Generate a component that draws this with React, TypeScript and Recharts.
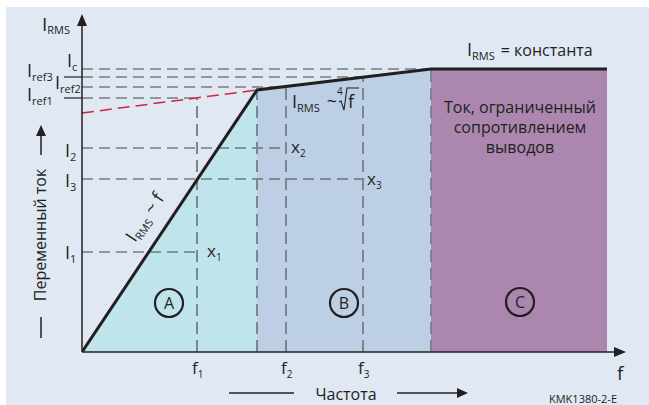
import { ComposedChart, Area, Line, XAxis, YAxis, ReferenceLine, ReferenceDot } from 'recharts';

// Ломаная I_RMS(f): начало, излом, начало полки, конец полки
const freq = [0, 175, 349, 525];
const irms = [0, 262, 283, 283];

// Уровни тока на оси и до какой частоты тянется пунктир
const levelNames = ['c', 'ref3', 'ref2', 'ref1', '2', '3', '1'];
const levelValues = [283, 275, 265, 254, 204, 173, 100];
const levelReach = [349, 281, 204, 115, 204, 281, 115];

// Частоты f1..f3 и высота вертикального пунктира
const fNames = ['1', '2', '3'];
const fValues = [115, 204, 281];
const fTops = [254, 265, 275];

// Продолжение закона ~ корень 4-й степени (красный пунктир)
const extraF = [0, 175];
const extraI = [239, 262];

// Рабочие точки x1..x3
const xNames = ['1', '2', '3'];
const xAtF = [115, 204, 281];
const xAtI = [100, 204, 173];

// Области A, B, C (центры кружков)
const zoneNames = ['A', 'B', 'C'];
const zoneF = [87, 262, 438];
const zoneI = [49, 49, 50];

const regionText = ['Ток, ограниченный', 'сопротивлением', 'выводов'];

const INK = '#231f20';
const FONT = '"Open Sans", sans-serif';

const curve = freq.map((f, k) => ({
  f,
  i: irms[k],
  a: k <= 1 ? irms[k] : undefined,
  b: k >= 1 && k <= 2 ? irms[k] : undefined,
  c: k >= 2 ? irms[k] : undefined,
}));

// label offsets in px for the axis labels (same order as levelNames)
const levelLabelPos = [
  { dx: -15, dy: -2 },
  { dx: -55, dy: 0 },
  { dx: -27, dy: 2 },
  { dx: -55, dy: 3 },
  { dx: -17, dy: 9 },
  { dx: -17, dy: 8 },
  { dx: -17, dy: 7 },
];
const xLabelPos = [
  { dx: 10, dy: 5 },
  { dx: 5, dy: 5 },
  { dx: 4, dy: 6 },
];

const at = (dx: number, dy: number, content: any) => (p: any) => (
  <g transform={`translate(${p.cx + dx},${p.cy + dy})`}>{content}</g>
);

const sym = (main: string, sub: string, size = 18, subSize = 11, drop = 4) => (
  <text x={0} y={0} fill={INK} fontFamily={FONT} fontSize={size}>
    <tspan>{main}</tspan>
    <tspan fontSize={subSize} dy={drop}>{sub}</tspan>
  </text>
);

const hDash = { stroke: '#454545', strokeWidth: 1.2, strokeDasharray: '11 6' };
const vDash = { stroke: '#7d858d', strokeWidth: 2, strokeDasharray: '12 6' };
const solid = { stroke: INK, strokeWidth: 1.5 };

export default function App() {
  return (
    <div style={{ position: 'absolute', left: 0, top: 0, width: 649, height: 405, background: '#fff' }}>
      <div style={{ position: 'absolute', left: 6, top: 7, right: 0, bottom: 0, background: '#e0e8f4' }} />
      <div style={{ position: 'absolute', left: 0, top: 0 }}>
        <ComposedChart width={649} height={405} data={curve} margin={{ top: 14, right: 23, bottom: 53, left: 82 }}>
          <XAxis dataKey="f" type="number" domain={[0, 544]} allowDataOverflow hide />
          <YAxis type="number" domain={[0, 338]} allowDataOverflow hide />

          <Area dataKey="a" type="linear" fill="#c0e4ec" fillOpacity={1} stroke="none" isAnimationActive={false} />
          <Area dataKey="b" type="linear" fill="#bccfe4" fillOpacity={1} stroke="none" isAnimationActive={false} />
          <Area dataKey="c" type="linear" fill="#ab87b0" fillOpacity={1} stroke="none" isAnimationActive={false} />

          {/* horizontal dashed levels */}
          {levelValues.map((v, k) => (
            <ReferenceLine key={`h${k}`} segment={[{ x: 0, y: v }, { x: levelReach[k], y: v }]} {...hDash} ifOverflow="visible" />
          ))}
          {/* short solid leaders for Iref3, Iref1 */}
          {[levelValues[1], levelValues[3]].map((v, k) => (
            <ReferenceLine key={`t${k}`} segment={[{ x: -18, y: v }, { x: 0, y: v }]} stroke={INK} strokeWidth={1.2} ifOverflow="visible" />
          ))}
          {/* vertical dashed at f1..f3 */}
          {fValues.map((f, k) => (
            <ReferenceLine key={`v${k}`} segment={[{ x: f, y: 0 }, { x: f, y: fTops[k] }]} {...vDash} ifOverflow="visible" />
          ))}
          {/* zone boundaries */}
          {[1, 2].map((k) => (
            <ReferenceLine key={`b${k}`} segment={[{ x: freq[k], y: 0 }, { x: freq[k], y: irms[k] }]} {...vDash} ifOverflow="visible" />
          ))}
          <ReferenceLine segment={[{ x: extraF[0], y: extraI[0] }, { x: extraF[1], y: extraI[1] }]} stroke="#d2233f" strokeWidth={1.5} strokeDasharray="12 6" ifOverflow="visible" />

          {/* axes */}
          <ReferenceLine segment={[{ x: 0, y: 0 }, { x: 536, y: 0 }]} {...solid} ifOverflow="visible" />
          <ReferenceLine segment={[{ x: 0, y: 0 }, { x: 0, y: 330 }]} {...solid} ifOverflow="visible" />
          <ReferenceDot x={544} y={0} r={1} ifOverflow="visible" shape={at(0, 0, <polygon points="0,0 -12,-5 -12,5" fill={INK} />)} />
          <ReferenceDot x={0} y={338} r={1} ifOverflow="visible" shape={at(0, 0, <polygon points="0,0 -5,12 5,12" fill={INK} />)} />

          <Line dataKey="i" type="linear" stroke={INK} strokeWidth={3} dot={false} isAnimationActive={false} />

          {/* side arrow: Переменный ток */}
          <ReferenceLine segment={[{ x: -41, y: 197 }, { x: -41, y: 218 }]} {...solid} ifOverflow="visible" />
          <ReferenceLine segment={[{ x: -41, y: 14 }, { x: -41, y: 35 }]} {...solid} ifOverflow="visible" />
          <ReferenceDot x={-41} y={227} r={1} ifOverflow="visible" shape={at(0, 0, <polygon points="0,0 -5,11 5,11" fill={INK} />)} />
          <ReferenceDot x={-41} y={117} r={1} ifOverflow="visible" shape={at(5, 0,
            <text transform="rotate(-90)" textAnchor="middle" fill={INK} fontFamily={FONT} fontSize={16}>Переменный ток</text>)} />

          {/* bottom arrow: Частота */}
          <ReferenceLine segment={[{ x: 147, y: -41 }, { x: 212, y: -41 }]} {...solid} ifOverflow="visible" />
          <ReferenceLine segment={[{ x: 315, y: -41 }, { x: 378, y: -41 }]} {...solid} ifOverflow="visible" />
          <ReferenceDot x={386} y={-41} r={1} ifOverflow="visible" shape={at(0, 0, <polygon points="0,0 -11,-5 -11,5" fill={INK} />)} />
          <ReferenceDot x={264} y={-41} r={1} ifOverflow="visible" shape={at(0, 7,
            <text textAnchor="middle" fill={INK} fontFamily={FONT} fontSize={16}>Частота</text>)} />

          {/* axis names */}
          <ReferenceDot x={0} y={338} r={1} ifOverflow="visible" shape={at(-40, 17, sym('I', 'RMS', 19, 11, 3))} />
          <ReferenceDot x={544} y={0} r={1} ifOverflow="visible" shape={at(-9, 28,
            <text fill={INK} fontFamily={FONT} fontSize={19}>f</text>)} />

          {/* level labels */}
          {levelValues.map((v, k) => (
            <ReferenceDot key={`l${k}`} x={0} y={v} r={1} ifOverflow="visible"
              shape={at(levelLabelPos[k].dx, levelLabelPos[k].dy, sym('I', levelNames[k], 18, 11, 4))} />
          ))}
          {/* f labels */}
          {fValues.map((f, k) => (
            <ReferenceDot key={`fl${k}`} x={f} y={0} r={1} ifOverflow="visible"
              shape={at(-5, 22, sym('f', fNames[k], 17, 10, 4))} />
          ))}
          {/* x labels */}
          {xAtF.map((f, k) => (
            <ReferenceDot key={`xl${k}`} x={f} y={xAtI[k]} r={1} ifOverflow="visible"
              shape={at(xLabelPos[k].dx, xLabelPos[k].dy, sym('x', xNames[k], 17, 10, 4))} />
          ))}
          {/* zone circles */}
          {zoneF.map((f, k) => (
            <ReferenceDot key={`z${k}`} x={f} y={zoneI[k]} r={1} ifOverflow="visible"
              shape={at(0, 0, (
                <g>
                  <circle r={14} fill="none" stroke={INK} strokeWidth={2.2} />
                  <text y={6} textAnchor="middle" fill={INK} fontFamily={FONT} fontSize={16}>{zoneNames[k]}</text>
                </g>
              ))} />
          ))}

          {/* law annotations */}
          <ReferenceDot x={53} y={109} r={1} ifOverflow="visible" shape={at(0, 0, (
            <text transform="rotate(-56.3)" fill={INK} fontFamily={FONT} fontSize={18}>
              <tspan>I</tspan><tspan fontSize={11} dy={4}>RMS</tspan><tspan dy={-4} dx={5}>~ f</tspan>
            </text>
          ))} />
          <ReferenceDot x={210} y={244} r={1} ifOverflow="visible" shape={at(0, 0, (
            <g>
              <text fill={INK} fontFamily={FONT} fontSize={18}>
                <tspan>I</tspan><tspan fontSize={11} dy={4}>RMS</tspan><tspan dy={-4} dx={7}>~</tspan>
              </text>
              <text x={45} y={-13} fill={INK} fontFamily={FONT} fontSize={10}>4</text>
              <path d="M47,-6 L49,-7 L52,2 L55,-20 L67,-20" fill="none" stroke={INK} strokeWidth={1.1} />
              <text x={56} y={0} fill={INK} fontFamily={FONT} fontSize={18}>f</text>
            </g>
          ))} />
          <ReferenceDot x={385} y={296} r={1} ifOverflow="visible" shape={at(0, 0, (
            <text fill={INK} fontFamily={FONT} fontSize={18}>
              <tspan>I</tspan><tspan fontSize={11} dy={4}>RMS</tspan><tspan dy={-4} dx={6} fontSize={16}>= константа</tspan>
            </text>
          ))} />
          <ReferenceDot x={438} y={239} r={1} ifOverflow="visible" shape={at(0, 0, (
            <text textAnchor="middle" fill={INK} fontFamily={FONT} fontSize={16}>
              {regionText.map((t, k) => (
                <tspan key={k} x={0} dy={k === 0 ? 0 : 20}>{t}</tspan>
              ))}
            </text>
          ))} />
          <ReferenceDot x={535} y={-51} r={1} ifOverflow="visible" shape={at(0, 0, (
            <text textAnchor="end" fill={INK} fontFamily={FONT} fontSize={11}>KMK1380-2-E</text>
          ))} />
        </ComposedChart>
      </div>
    </div>
  );
}
